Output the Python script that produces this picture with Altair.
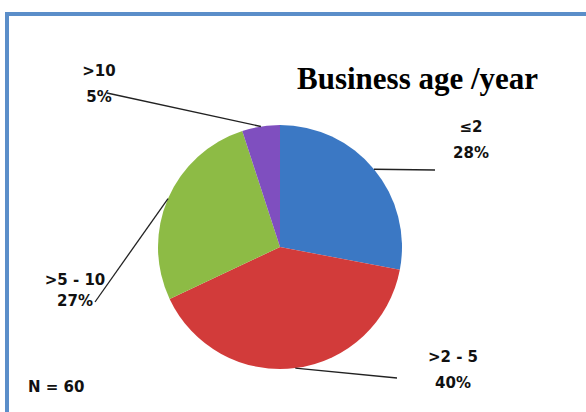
import altair as alt
import numpy as np
import pandas as pd

# ---- data ----
categories = ["≤2", ">2 - 5", ">5 - 10", ">10"]
percents = [28, 40, 27, 5]
colors = ["#3b78c4", "#d23b3a", "#8dbb45", "#7f4fbf"]
title_text = "Business age /year"
n_text = "N = 60"

# ---- layout (pixels) ----
W, H = 586, 412
CX, CY, R = 280, 247, 122
cat_label_x = [471, 453, 75, 99]
cat_label_y = [127, 357, 280, 71]
pct_label_y = [153, 383, 301, 97]
leader_end_x = [435, 397, 95, 107]
leader_end_y = [170, 378, 302, 93]

pct = np.array(percents, dtype=float)
cum = np.cumsum(pct) - pct / 2.0
mid = cum / pct.sum() * 2 * np.pi
start_x = CX + R * np.sin(mid)
start_y = CY - R * np.cos(mid)

df = pd.DataFrame({
    "cat": categories,
    "pct": percents,
    "idx": list(range(len(categories))),
    "pct_txt": [f"{p}%" for p in percents],
    "lx": cat_label_x,
    "ly": cat_label_y,
    "py": pct_label_y,
    "sx": start_x,
    "sy": start_y,
    "ex": leader_end_x,
    "ey": leader_end_y,
})

xs = alt.Scale(domain=[0, W], range=[0, W])
ys = alt.Scale(domain=[0, H], range=[0, H])

one = pd.DataFrame({"a": [0]})

frame = alt.Chart(one).mark_rect(
    fill="#ffffff", stroke="#5b8ec9", strokeWidth=4
).encode(
    x=alt.value(7), x2=alt.value(W + 20), y=alt.value(14), y2=alt.value(H + 20)
)

pie = alt.Chart(df).mark_arc(radius=R).encode(
    theta=alt.Theta("pct:Q", stack=True),
    color=alt.Color("cat:N", scale=alt.Scale(domain=categories, range=colors), legend=None),
    order=alt.Order("idx:Q"),
    x=alt.value(CX),
    y=alt.value(CY),
)

leaders = alt.Chart(df).mark_rule(color="#222222", strokeWidth=1.3).encode(
    x=alt.X("sx:Q", scale=xs, axis=None),
    y=alt.Y("sy:Q", scale=ys, axis=None),
    x2="ex:Q",
    y2="ey:Q",
)

lab_font = dict(font="DejaVu Sans", fontWeight="bold", fontSize=15, color="#111111",
                align="center", baseline="middle")

cat_labels = alt.Chart(df).mark_text(**lab_font).encode(
    x=alt.X("lx:Q", scale=xs, axis=None),
    y=alt.Y("ly:Q", scale=ys, axis=None),
    text="cat:N",
)

pct_labels = alt.Chart(df).mark_text(**lab_font).encode(
    x=alt.X("lx:Q", scale=xs, axis=None),
    y=alt.Y("py:Q", scale=ys, axis=None),
    text="pct_txt:N",
)

title = alt.Chart(pd.DataFrame({"t": [title_text]})).mark_text(
    font="Liberation Serif", fontWeight="bold", fontSize=31, color="#000000",
    align="left", baseline="alphabetic"
).encode(x=alt.value(297), y=alt.value(89), text="t:N")

ntext = alt.Chart(pd.DataFrame({"t": [n_text]})).mark_text(
    font="DejaVu Sans", fontWeight="bold", fontSize=15, color="#111111",
    align="left", baseline="middle"
).encode(x=alt.value(28), y=alt.value(387), text="t:N")

chart = alt.layer(frame, pie, leaders, cat_labels, pct_labels, title, ntext).properties(
    width=W, height=H, padding=0,
    autosize=alt.AutoSizeParams(type="none"),
    background="#ffffff",
).configure_view(stroke=None)

chart.save("out.html", embed_options={"renderer": "svg", "actions": False})
